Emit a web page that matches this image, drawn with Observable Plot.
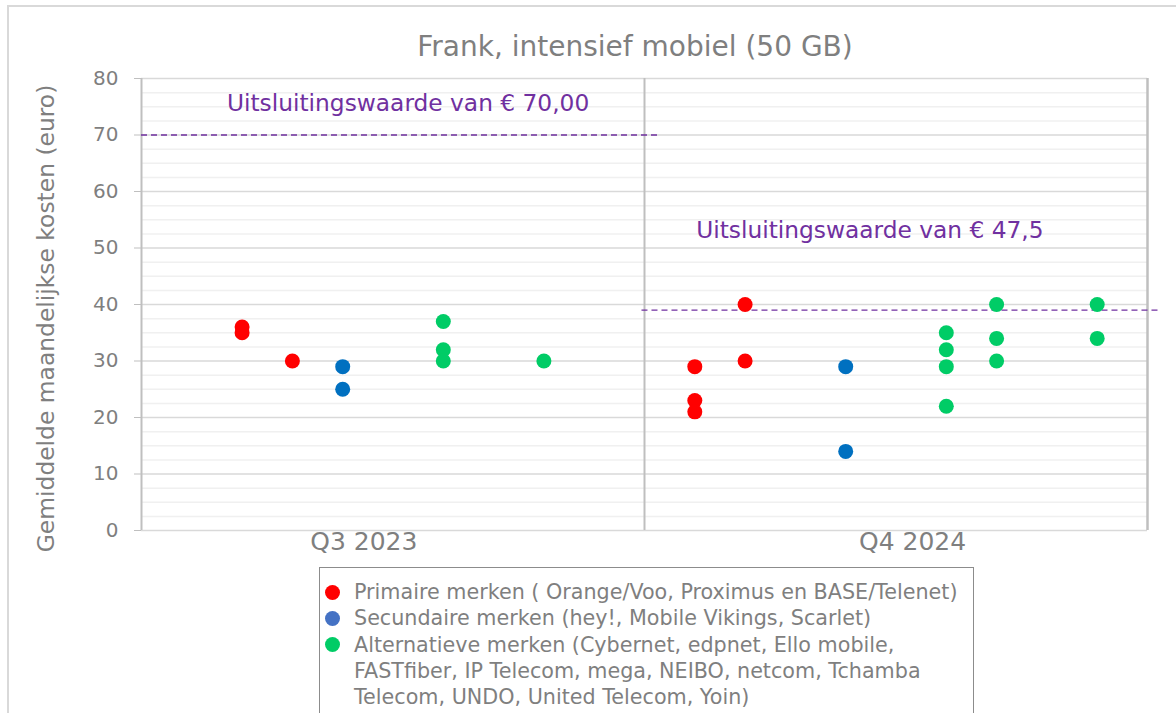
<!DOCTYPE html>
<html>
<head>
<meta charset="utf-8">
<script src="https://cdn.jsdelivr.net/npm/d3@7"></script>
<script src="https://cdn.jsdelivr.net/npm/@observablehq/plot@0.6"></script>
<style>
  html, body { margin: 0; padding: 0; background: #fff; }
  #wrap { position: relative; width: 1176px; height: 713px; overflow: hidden; background: #fff; font-family: "DejaVu Sans", Verdana, sans-serif; }
  #frame { position: absolute; left: 7px; top: 5px; width: 1200px; height: 800px; border: 2px solid #d9d9d9; box-sizing: border-box; }
  #title { position: absolute; left: 235px; width: 800px; top: 32px; line-height: 30px; text-align: center; font-size: 28px; color: #7f7f7f; white-space: nowrap; }
  #chart { position: absolute; left: 0; top: 70px; }
  #legend { position: absolute; left: 319px; top: 567px; width: 655px; height: 200px; border: 1.5px solid #8c8c8c; box-sizing: border-box; padding-top: 11px; padding-left: 5px; }
  .item { display: flex; align-items: flex-start; font-size: 20.7px; line-height: 26.3px; color: #7f7f7f; white-space: nowrap; }
  .swatch { width: 15px; height: 15px; border-radius: 50%; margin-top: 5.5px; margin-right: 14px; flex: none; }
</style>
</head>
<body>
<div id="wrap">
  <div id="frame"></div>
  <div id="title"></div>
  <div id="chart"></div>
  <div id="legend"></div>
</div>
<script>
// ---- Data ----
const chartTitle = "Frank, intensief mobiel (50 GB)";
const yLabel = "Gemiddelde maandelijkse kosten (euro)";
const categories = ["Q3 2023", "Q4 2024"];
const categoryLabelX = [4.42, 15.33];
const categoryDivider = [10];
const yTicks = [0, 10, 20, 30, 40, 50, 60, 70, 80];

const groupNames = [
  "Primaire merken ( Orange/Voo, Proximus en BASE/Telenet)",
  "Secundaire merken (hey!, Mobile Vikings, Scarlet)",
  "Alternatieve merken (Cybernet, edpnet, Ello mobile,\nFASTfiber, IP Telecom, mega, NEIBO, netcom, Tchamba\nTelecom, UNDO, United Telecom, Yoin)"
];
const groupColors = ["#ff0000", "#0070c0", "#00cc66"];
const legendColors = ["#ff0000", "#4472c4", "#00cc66"];

const primaireX = [2, 2, 3, 11, 11, 11, 12, 12];
const primaireY = [36, 35, 30, 29, 23, 21, 40, 30];
const secundaireX = [4, 4, 14, 14];
const secundaireY = [29, 25, 29, 14];
const alternatiefX = [6, 6, 6, 8, 16, 16, 16, 16, 17, 17, 17, 19, 19];
const alternatiefY = [37, 32, 30, 30, 35, 32, 29, 22, 40, 34, 30, 40, 34];

const thresholdValues = [70, 39];
const thresholdStart = [0, 9.95];
const thresholdEnd = [10.3, 20.25];
const thresholdLabels = ["Uitsluitingswaarde van € 70,00", "Uitsluitingswaarde van € 47,5"];
const thresholdLabelX = [5.3, 14.48];
const thresholdLabelY = [75.6, 53.1];

// ---- Build tables ----
const points = [
  ...primaireX.map((x, i) => ({x, y: primaireY[i], g: 0})),
  ...secundaireX.map((x, i) => ({x, y: secundaireY[i], g: 1})),
  ...alternatiefX.map((x, i) => ({x, y: alternatiefY[i], g: 2}))
];
const thresholds = thresholdValues.map((v, i) => ({y: v, x1: thresholdStart[i], x2: thresholdEnd[i]}));
const annotations = thresholdLabels.map((t, i) => ({t, x: thresholdLabelX[i], y: thresholdLabelY[i]}));
const minorTicks = d3.range(0, 80.01, 2.5).filter(v => v % 10 !== 0);

document.getElementById("title").textContent = chartTitle;

const chart = Plot.plot({
  width: 1176,
  height: 500,
  marginLeft: 141,
  marginRight: 29,
  marginTop: 8,
  marginBottom: 40,
  x: {domain: [0, 20], axis: null},
  y: {domain: [0, 80], axis: null},
  style: {fontFamily: "DejaVu Sans, Verdana, sans-serif", background: "transparent", overflow: "visible"},
  marks: [
    Plot.ruleY(minorTicks, {stroke: "#f0f0f0", strokeWidth: 1.5}),
    Plot.ruleY(yTicks, {stroke: "#d9d9d9", strokeWidth: 1.5}),
    Plot.ruleX([0], {stroke: "#bfbfbf", strokeWidth: 2}),
    Plot.ruleX(categoryDivider, {stroke: "#bfbfbf", strokeWidth: 2}),
    Plot.ruleX([20], {stroke: "#bfbfbf", strokeWidth: 2.5}),
    Plot.axisY(yTicks, {tickSize: 7, tickPadding: 16, stroke: "#bfbfbf", fill: "#7f7f7f", fontSize: 20, label: null}),
    Plot.ruleY(thresholds, {y: "y", x1: "x1", x2: "x2", stroke: "#7030a0", strokeWidth: 1.3, strokeDasharray: "6,4", clip: false}),
    Plot.text(annotations, {x: "x", y: "y", text: "t", fill: "#7030a0", fontSize: 23.3}),
    Plot.dot(points, {x: "x", y: "y", r: 7.5, fill: d => groupColors[d.g], stroke: "none"}),
    Plot.text(categories, {x: (d, i) => categoryLabelX[i], frameAnchor: "bottom", dy: 19, text: d => d, fill: "#7f7f7f", fontSize: 25}),
    Plot.text([yLabel], {frameAnchor: "left", textAnchor: "middle", dx: -95, dy: 14, rotate: -90, text: d => d, fill: "#7f7f7f", fontSize: 23.4})
  ]
});
document.getElementById("chart").appendChild(chart);

const legend = document.getElementById("legend");
groupNames.forEach((name, i) => {
  const item = document.createElement("div");
  item.className = "item";
  const sw = document.createElement("span");
  sw.className = "swatch";
  sw.style.background = legendColors[i];
  const txt = document.createElement("span");
  txt.innerHTML = name.split("\n").join("<br>");
  item.appendChild(sw);
  item.appendChild(txt);
  legend.appendChild(item);
});
</script>
</body>
</html>
